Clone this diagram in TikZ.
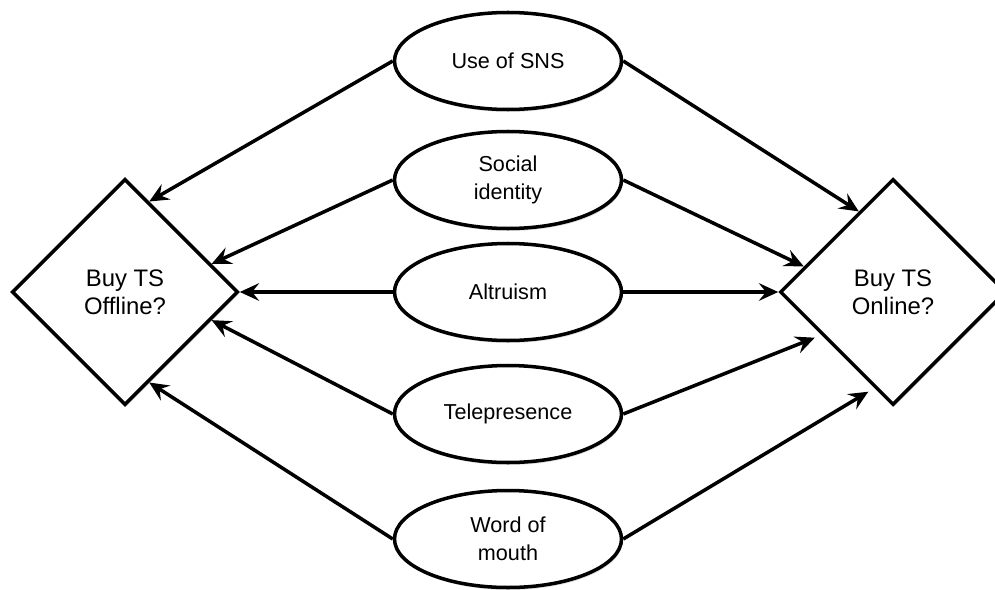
\documentclass[tikz,border=0pt]{standalone}
\usepackage{fontspec}
\setmainfont{Liberation Sans}
\usetikzlibrary{shapes.geometric, arrows.meta, shadows}

\tikzset{
    factor/.style={ellipse, draw, line width=2pt, fill=white,
        minimum width=4.54cm, minimum height=1.94cm, inner sep=0pt,
        align=center, font=\fontsize{12.3}{16}\selectfont,
        drop shadow={shadow xshift=0.6pt, shadow yshift=-1.4pt, opacity=0.25}},
    choice/.style={diamond, draw, line width=2pt, fill=white,
        minimum width=4.52cm, minimum height=4.52cm, inner sep=0pt,
        align=center, font=\fontsize{13.6}{16}\selectfont,
        drop shadow={shadow xshift=0.6pt, shadow yshift=-1.4pt, opacity=0.25}},
    link/.style={line width=2pt, -{Stealth[length=11pt, width=10pt, inset=4pt]}}
}

\begin{document}
\begin{tikzpicture}
    \useasboundingbox (0, 0) rectangle (19.9, -11.78);

    \node[choice] (off) at (2.5, -5.84) {Buy TS\\Offline?};
    \node[choice] (on) at (17.86, -5.84) {Buy TS\\Online?};

    \node[factor] (sns) at (10.16, -1.22) {Use of SNS};
    \node[factor] (ident) at (10.16, -3.6) {Social\\identity};
    \node[factor] (altr) at (10.16, -5.84) {Altruism};
    \node[factor] (tele) at (10.16, -8.28) {Telepresence};
    \node[factor] (wom) at (10.16, -10.78) {Word of\\mouth};

    \draw[link] (sns.west)--(off.75);
    \draw[link] (ident.west)--(off.18);
    \draw[link] (altr.west)--(off.east);
    \draw[link] (tele.west)--(off.-18);
    \draw[link] (wom.west)--(off.-75);

    \draw[link] (sns.east)--(on.113);
    \draw[link] (ident.east)--(on.164);
    \draw[link] (altr.east)--(on.west);
    \draw[link, shorten >=4pt] (tele.east)--(on.211);
    \draw[link, shorten >=4pt] (wom.east)--(on.259);
\end{tikzpicture}
\end{document}
